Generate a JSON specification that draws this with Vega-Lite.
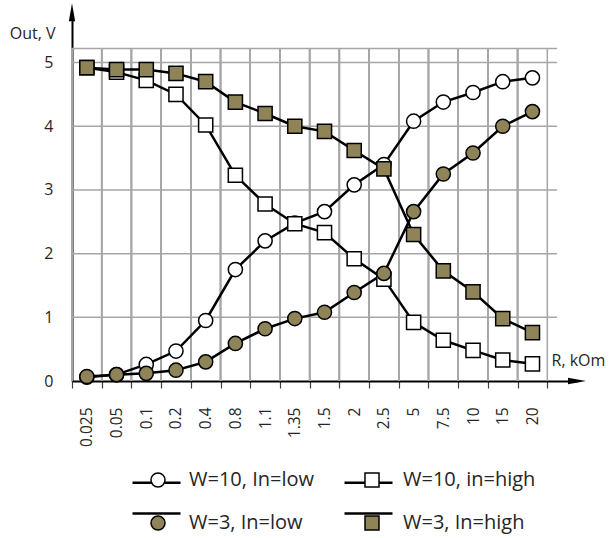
{
  "$schema": "https://vega.github.io/schema/vega-lite/v6.json",
  "autosize": "none",
  "padding": {"left": 72, "top": 18, "right": 34, "bottom": 157},
  "width": 505,
  "height": 363,
  "background": "white",
  "config": {
    "view": {"stroke": null},
    "font": "Open Sans",
    "axis": {"labelColor": "#262626", "titleColor": "#262626", "titleFontWeight": "normal"}
  },
  "data": {
    "values": [
      {"R": "0.025", "series": "W=10, In=low", "v": 0.06},
      {"R": "0.05", "series": "W=10, In=low", "v": 0.1},
      {"R": "0.1", "series": "W=10, In=low", "v": 0.26},
      {"R": "0.2", "series": "W=10, In=low", "v": 0.47},
      {"R": "0.4", "series": "W=10, In=low", "v": 0.95},
      {"R": "0.8", "series": "W=10, In=low", "v": 1.75},
      {"R": "1.1", "series": "W=10, In=low", "v": 2.2},
      {"R": "1.35", "series": "W=10, In=low", "v": 2.48},
      {"R": "1.5", "series": "W=10, In=low", "v": 2.66},
      {"R": "2", "series": "W=10, In=low", "v": 3.08},
      {"R": "2.5", "series": "W=10, In=low", "v": 3.4},
      {"R": "5", "series": "W=10, In=low", "v": 4.08},
      {"R": "7.5", "series": "W=10, In=low", "v": 4.38},
      {"R": "10", "series": "W=10, In=low", "v": 4.53},
      {"R": "15", "series": "W=10, In=low", "v": 4.7},
      {"R": "20", "series": "W=10, In=low", "v": 4.76},
      {"R": "0.025", "series": "W=10, in=high", "v": 4.92},
      {"R": "0.05", "series": "W=10, in=high", "v": 4.85},
      {"R": "0.1", "series": "W=10, in=high", "v": 4.72},
      {"R": "0.2", "series": "W=10, in=high", "v": 4.5},
      {"R": "0.4", "series": "W=10, in=high", "v": 4.02},
      {"R": "0.8", "series": "W=10, in=high", "v": 3.23},
      {"R": "1.1", "series": "W=10, in=high", "v": 2.78},
      {"R": "1.35", "series": "W=10, in=high", "v": 2.47},
      {"R": "1.5", "series": "W=10, in=high", "v": 2.33},
      {"R": "2", "series": "W=10, in=high", "v": 1.92},
      {"R": "2.5", "series": "W=10, in=high", "v": 1.6},
      {"R": "5", "series": "W=10, in=high", "v": 0.92},
      {"R": "7.5", "series": "W=10, in=high", "v": 0.64},
      {"R": "10", "series": "W=10, in=high", "v": 0.48},
      {"R": "15", "series": "W=10, in=high", "v": 0.33},
      {"R": "20", "series": "W=10, in=high", "v": 0.27},
      {"R": "0.025", "series": "W=3, In=low", "v": 0.07},
      {"R": "0.05", "series": "W=3, In=low", "v": 0.1},
      {"R": "0.1", "series": "W=3, In=low", "v": 0.12},
      {"R": "0.2", "series": "W=3, In=low", "v": 0.17},
      {"R": "0.4", "series": "W=3, In=low", "v": 0.3},
      {"R": "0.8", "series": "W=3, In=low", "v": 0.59},
      {"R": "1.1", "series": "W=3, In=low", "v": 0.82},
      {"R": "1.35", "series": "W=3, In=low", "v": 0.98},
      {"R": "1.5", "series": "W=3, In=low", "v": 1.08},
      {"R": "2", "series": "W=3, In=low", "v": 1.39},
      {"R": "2.5", "series": "W=3, In=low", "v": 1.69},
      {"R": "5", "series": "W=3, In=low", "v": 2.66},
      {"R": "7.5", "series": "W=3, In=low", "v": 3.25},
      {"R": "10", "series": "W=3, In=low", "v": 3.58},
      {"R": "15", "series": "W=3, In=low", "v": 4.0},
      {"R": "20", "series": "W=3, In=low", "v": 4.23},
      {"R": "0.025", "series": "W=3, In=high", "v": 4.92},
      {"R": "0.05", "series": "W=3, In=high", "v": 4.89},
      {"R": "0.1", "series": "W=3, In=high", "v": 4.89},
      {"R": "0.2", "series": "W=3, In=high", "v": 4.83},
      {"R": "0.4", "series": "W=3, In=high", "v": 4.7},
      {"R": "0.8", "series": "W=3, In=high", "v": 4.38},
      {"R": "1.1", "series": "W=3, In=high", "v": 4.2},
      {"R": "1.35", "series": "W=3, In=high", "v": 4.0},
      {"R": "1.5", "series": "W=3, In=high", "v": 3.92},
      {"R": "2", "series": "W=3, In=high", "v": 3.62},
      {"R": "2.5", "series": "W=3, In=high", "v": 3.33},
      {"R": "5", "series": "W=3, In=high", "v": 2.3},
      {"R": "7.5", "series": "W=3, In=high", "v": 1.73},
      {"R": "10", "series": "W=3, In=high", "v": 1.4},
      {"R": "15", "series": "W=3, In=high", "v": 0.98},
      {"R": "20", "series": "W=3, In=high", "v": 0.76}
    ]
  },
  "layer": [
    {
      "mark": {"type": "rule", "color": "#a6a6a6", "strokeWidth": 1.5},
      "encoding": {
        "x": {
          "field": "R", "type": "ordinal", "bandPosition": 0,
          "scale": {"type": "band", "paddingInner": 0, "paddingOuter": 0,
            "domain": ["0.025","0.05","0.1","0.2","0.4","0.8","1.1","1.35","1.5","2","2.5","5","7.5","10","15","20"," "]},
          "axis": {
            "tickBand": "extent",
            "domainColor": "black", "domainWidth": 2,
            "tickColor": {"condition": {"test": "datum.value === ' '", "value": "transparent"}, "value": "#404040"},
            "tickSize": 7, "tickWidth": 1.2,
            "labelAngle": -90, "labelFontSize": 15.5, "labelPadding": 19,
            "grid": false,
            "title": "R, kOm", "titleFontSize": 16, "titleAlign": "left", "titleBaseline": "middle",
            "titleX": 479, "titleY": -21
          }
        },
        "y": {
          "datum": 0, "type": "quantitative",
          "scale": {"domain": [0, 5.7], "nice": false, "zero": true},
          "axis": {
            "values": [0, 1, 2, 3, 4, 5], "format": "d",
            "domainColor": "black", "domainWidth": 2,
            "ticks": false, "labelPadding": 19, "labelFontSize": 16,
            "grid": false,
            "title": "Out, V", "titleAngle": 0, "titleFontSize": 16,
            "titleAlign": "right", "titleBaseline": "middle",
            "titleX": -17, "titleY": 15
          }
        },
        "y2": {"datum": 5.22}
      }
    },
    {
      "data": {"values": [{"edge": " "}]},
      "mark": {"type": "rule", "color": "#a6a6a6", "strokeWidth": 1.5},
      "encoding": {
        "x": {"field": "edge", "type": "ordinal", "bandPosition": 0},
        "y": {"datum": 0, "type": "quantitative"},
        "y2": {"datum": 5.22}
      }
    },
    {
      "data": {"values": [{"g": 1}, {"g": 2}, {"g": 3}, {"g": 4}, {"g": 5}, {"g": 5.22}]},
      "mark": {"type": "rule", "color": "#a6a6a6", "strokeWidth": 1.5},
      "encoding": {
        "x": {"datum": "0.025", "type": "ordinal", "bandPosition": 0},
        "x2": {"datum": " ", "bandPosition": 0.33},
        "y": {"field": "g", "type": "quantitative"}
      }
    },
    {
      "mark": {"type": "line", "strokeWidth": 2.5},
      "encoding": {
        "x": {"field": "R", "type": "ordinal"},
        "y": {"field": "v", "type": "quantitative"},
        "stroke": {
          "field": "series", "type": "nominal",
          "scale": {"range": ["black", "black", "black", "black"]},
          "legend": {
            "title": null, "orient": "none", "legendX": 59, "legendY": 439,
            "direction": "horizontal", "zindex": 1,
            "columns": 2, "columnPadding": 150, "rowPadding": -7, "padding": 0,
            "symbolType": "stroke", "symbolSize": 2304, "symbolStrokeWidth": 2.5, "symbolStrokeColor": "black",
            "labelFontSize": 1, "labelOffset": 0, "labelOpacity": 0
          }
        }
      }
    },
    {
      "mark": {"type": "point", "filled": true, "stroke": "black", "strokeWidth": 1.5, "size": 200, "opacity": 1},
      "encoding": {
        "x": {"field": "R", "type": "ordinal"},
        "y": {"field": "v", "type": "quantitative"},
        "shape": {
          "field": "series", "type": "nominal",
          "scale": {"domain": ["W=10, In=low", "W=10, in=high", "W=3, In=low", "W=3, In=high"], "range": ["circle", "square", "circle", "square"]},
          "legend": {
            "title": null, "orient": "none", "legendX": 76, "legendY": 452,
            "direction": "horizontal", "zindex": 2,
            "columns": 2, "columnPadding": 47, "rowPadding": 23, "padding": 0,
            "symbolSize": 196, "symbolOpacity": 1, "symbolStrokeColor": "black", "symbolStrokeWidth": 1.5,
            "labelFontSize": 20, "labelOffset": 21, "labelColor": "#262626", "labelFont": "Open Sans",
            "encode": {"symbols": {"update": {"stroke": {"value": "black"}, "strokeWidth": {"value": 1.5}, "opacity": {"value": 1}}}}
          }
        },
        "fill": {
          "field": "series", "type": "nominal",
          "scale": {"domain": ["W=10, In=low", "W=10, in=high", "W=3, In=low", "W=3, In=high"], "range": ["white", "white", "#8f8457", "#8f8457"]},
          "legend": {
            "title": null, "orient": "none", "legendX": 76, "legendY": 452,
            "direction": "horizontal", "zindex": 2,
            "columns": 2, "columnPadding": 47, "rowPadding": 23, "padding": 0,
            "symbolSize": 196, "symbolOpacity": 1, "symbolStrokeColor": "black", "symbolStrokeWidth": 1.5,
            "labelFontSize": 20, "labelOffset": 21, "labelColor": "#262626", "labelFont": "Open Sans",
            "encode": {"symbols": {"update": {"stroke": {"value": "black"}, "strokeWidth": {"value": 1.5}, "opacity": {"value": 1}}}}
          }
        }
      }
    },
    {
      "data": {"values": [{"axis": "y"}]},
      "mark": {"type": "point", "shape": "M0,-1L0.35,1L-0.35,1Z", "size": 324, "filled": true, "color": "black", "opacity": 1},
      "encoding": {
        "x": {"datum": "0.025", "type": "ordinal", "bandPosition": 0},
        "y": {"datum": 5.79, "type": "quantitative"}
      }
    },
    {
      "data": {"values": [{"axis": "x"}]},
      "mark": {"type": "point", "shape": "M1,0L-1,-0.35L-1,0.35Z", "size": 324, "filled": true, "color": "black", "opacity": 1},
      "encoding": {
        "x": {"datum": " ", "type": "ordinal", "bandPosition": 1},
        "y": {"datum": 0, "type": "quantitative"}
      }
    }
  ]
}
